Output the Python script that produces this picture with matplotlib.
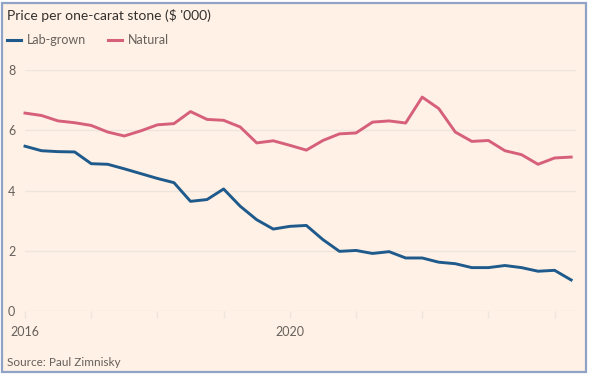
import matplotlib
matplotlib.use("Agg")
import matplotlib.pyplot as plt
from matplotlib.patches import Rectangle
import numpy as np

years_start = 2016
quarters = np.arange(34) / 4.0 + years_start

lab_grown = [5.47, 5.32, 5.29, 5.28, 4.89, 4.87, 4.72, 4.56, 4.40, 4.26,
             3.64, 3.70, 4.05, 3.48, 3.03, 2.72, 2.81, 2.84, 2.37, 1.98,
             2.01, 1.91, 1.97, 1.76, 1.76, 1.62, 1.57, 1.44, 1.44, 1.51,
             1.44, 1.32, 1.35, 1.03]
natural = [6.57, 6.49, 6.31, 6.25, 6.16, 5.94, 5.81, 5.98, 6.18, 6.22,
           6.62, 6.36, 6.33, 6.11, 5.58, 5.65, 5.50, 5.34, 5.66, 5.88,
           5.91, 6.27, 6.31, 6.24, 7.10, 6.72, 5.94, 5.63, 5.66, 5.32,
           5.19, 4.87, 5.08, 5.11]
y_ticks = [0, 2, 4, 6, 8]
x_ticks = [2016, 2017, 2018, 2019, 2020, 2021, 2022, 2023, 2024]
x_labels = {2016: "2016", 2020: "2020"}

W, H = 589, 375
bg = "#FFF1E5"
blue = "#1F5A8C"
pink = "#D6607A"
grey = "#66605C"
gridc = "#EFE5DC"

plt.rcParams['font.family'] = ['Lato', 'DejaVu Sans']
fig = plt.figure(figsize=(W / 100, H / 100), dpi=100, facecolor="white")
fig.patches.append(Rectangle((2 / W, 3 / H), 584 / W, 369 / H, transform=fig.transFigure,
                             facecolor=bg, edgecolor="#8EA3C6", linewidth=1.6, zorder=-10))

ax = fig.add_axes([25 / W, 1 - 311 / H, (576 - 25) / W, (311 - 70) / H])
ax.set_facecolor("none")
x0, x1 = 2016.0, 2016.0 + (576 - 25) / 66.2
ax.set_xlim(x0, x1)
ax.set_ylim(0, 8)
for s in ax.spines.values():
    s.set_visible(False)
for t in y_ticks:
    ax.axhline(t, color=gridc, lw=1.0, zorder=0)
ax.set_yticks(y_ticks)
ax.set_yticklabels([str(t) for t in y_ticks], color=grey, fontsize=9)
ax.tick_params(axis="y", length=0, pad=7)
ax.set_xticks(x_ticks)
ax.set_xticklabels([x_labels.get(t, "") for t in x_ticks], color=grey, fontsize=9)
ax.tick_params(axis="x", length=5, color=gridc, width=1, pad=6)

ax.plot(quarters, natural, color=pink, lw=2.1, solid_joinstyle="round", clip_on=False)
ax.plot(quarters, lab_grown, color=blue, lw=2.1, solid_joinstyle="round", clip_on=False)

fig.text(7 / W, 1 - 15.5 / H, "Price per one-carat stone ($ '000)", fontsize=10,
         color="#33302E", va="center", ha="left")
fig.add_artist(plt.Line2D([7 / W, 21 / W], [1 - 40 / H, 1 - 40 / H], color=blue, lw=2.2))
fig.text(27 / W, 1 - 40 / H, "Lab-grown", fontsize=9, color=grey, va="center", ha="left")
fig.add_artist(plt.Line2D([108 / W, 122 / W], [1 - 40 / H, 1 - 40 / H], color=pink, lw=2.2))
fig.text(128 / W, 1 - 40 / H, "Natural", fontsize=9, color=grey, va="center", ha="left")
fig.text(7 / W, 1 - 362 / H, "Source: Paul Zimnisky", fontsize=8.5, color=grey,
         va="center", ha="left")

fig.savefig("out.png", dpi=100, facecolor="white")
